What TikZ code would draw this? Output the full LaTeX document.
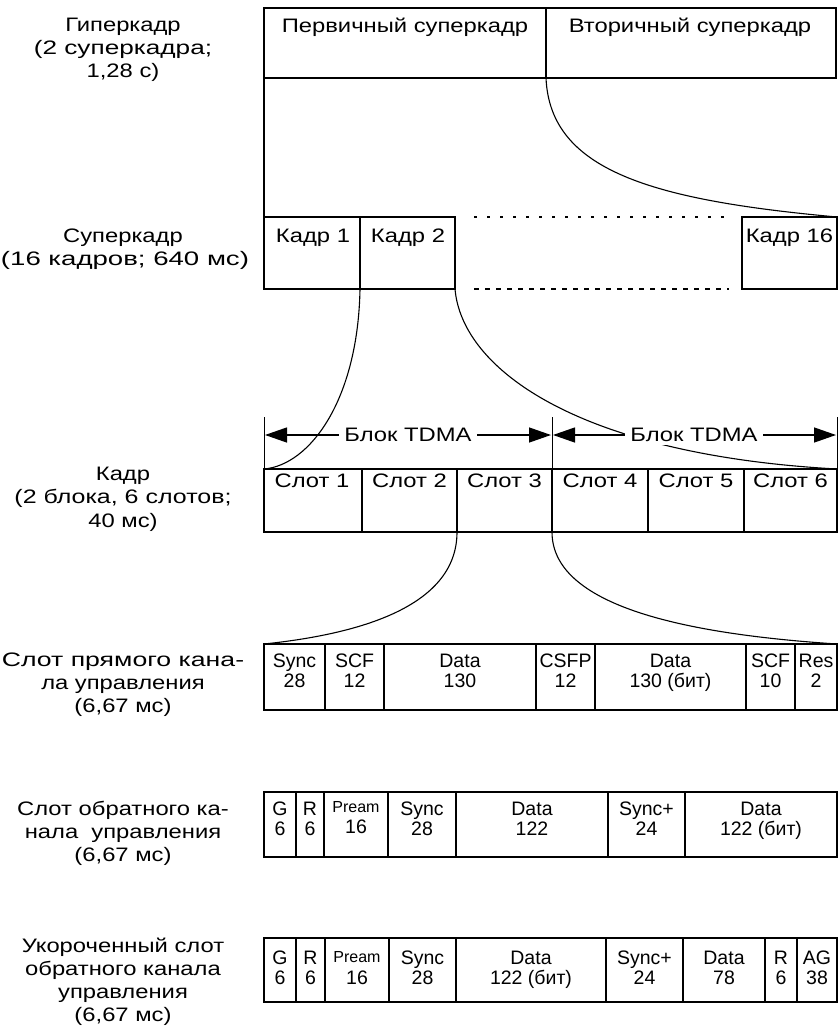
\documentclass[tikz,border=0pt]{standalone}
\usepackage{fontspec}
\usepackage{graphicx}
\setmainfont{Liberation Sans}
\newfontfamily\wide{Liberation Sans}[FakeStretch=1.22]
\usetikzlibrary{arrows.meta}
\newcommand\mycell[6][]{\node[boxcell,#1,minimum width={#4-#3},minimum height={#6-#5},anchor=north west] (#2) at (#3,#5) {};}
\newcommand\twol[5]{\node[cell] (#1a) at (#2,#3) {#4};\node[cell] (#1b) at (#2,#3+20) {#5};}
\begin{document}
\begin{tikzpicture}[x=1pt,y=-1pt,
  boxcell/.style={draw,line width=1.6pt,inner sep=0pt,outer sep=0pt},
  lbl/.style={anchor=base,inner sep=0pt,font=\wide\fontsize{19.5}{23}\selectfont},
  cell/.style={anchor=base,inner sep=0pt,font=\fontsize{19.5}{20}\selectfont},
  smallcell/.style={anchor=base,inner sep=0pt,font=\fontsize{16}{18}\selectfont},
  link/.style={line width=1.1pt},
  tdma/.style={line width=1.3pt,{Triangle[length=22pt,width=15pt]}-{Triangle[length=22pt,width=15pt]}},
  whitelbl/.style={lbl,fill=white,inner xsep=5pt,inner ysep=4pt}
]
\useasboundingbox (0,0) rectangle (839,1032);

% ---- left labels
\node[lbl] (h1) at (123,32) {Гиперкадр};
\node[lbl] (h2) at (123,55) {\scalebox{1.1}[1]{(2 суперкадра;}};
\node[lbl] (h3) at (123,78) {1,28 с)};
\node[lbl] (sf1) at (123,242) {Суперкадр};
\node[lbl] (sf2) at (125,265) {\scalebox{1.16}[1]{(16 кадров; 640 мс)}};
\node[lbl] (fr1) at (123,480) {Кадр};
\node[lbl] (fr2) at (123,503) {\scalebox{1.05}[1]{(2 блока, 6 слотов;}};
\node[lbl] (fr3) at (123,527) {40 мс)};
\node[lbl] (fw1) at (123,666) {\scalebox{1.12}[1]{Слот прямого кана-}};
\node[lbl] (fw2) at (123,689) {ла управления};
\node[lbl] (fw3) at (123,712) {(6,67 мс)};
\node[lbl] (rv1) at (123,815) {Слот обратного ка-};
\node[lbl] (rv2) at (123,838) {нала\ \ управления};
\node[lbl] (rv3) at (123,861) {(6,67 мс)};
\node[lbl] (sh1) at (123,952) {Укороченный слот};
\node[lbl] (sh2) at (123,975) {обратного канала};
\node[lbl] (sh3) at (123,998) {управления};
\node[lbl] (sh4) at (123,1021) {(6,67 мс)};

% ---- hyperframe
\mycell{p}{264}{546}{8}{78}
\mycell{v}{546}{836}{8}{78}
\node[lbl] (pt) at (405,33) {Первичный суперкадр};
\node[lbl] (vt) at (690,33) {Вторичный суперкадр};

% ---- superframe
\mycell{k1}{264}{360}{217}{289}
\mycell{k2}{360}{455}{217}{289}
\mycell{k16}{742}{837}{217}{289}
\node[lbl] (k1t) at (313,242) {Кадр 1};
\node[lbl] (k2t) at (408,242) {Кадр 2};
\node[lbl] (k16t) at (789.5,242) {Кадр 16};
\coordinate (d1a) at (474,217); \coordinate (d1b) at (727,217);
\coordinate (d2a) at (474,289); \coordinate (d2b) at (729,289);
\draw[line width=1.5pt,dash pattern=on 3pt off 10pt] (d1a) -- (d1b);
\draw[line width=1.3pt,dash pattern=on 5pt off 6pt] (d2a) -- (d2b);

\draw[link] (p.south west) -- (k1.north west);
\draw[link] (p.south east) .. controls (550,170) and (650,200) .. (k16.north east);

% ---- frame
\mycell{s1}{264}{362}{469}{532}
\mycell{s2}{362}{457}{469}{532}
\mycell{s3}{457}{552}{469}{532}
\mycell{s4}{552}{648}{469}{532}
\mycell{s5}{648}{744}{469}{532}
\mycell{s6}{744}{837}{469}{532}
\node[lbl] (s1t) at (312,487) {Слот 1};
\node[lbl] (s2t) at (409.5,487) {Слот 2};
\node[lbl] (s3t) at (504.5,487) {Слот 3};
\node[lbl] (s4t) at (600,487) {Слот 4};
\node[lbl] (s5t) at (696,487) {Слот 5};
\node[lbl] (s6t) at (790.5,487) {Слот 6};

\draw[link] (k2.south west) .. controls (358,400) and (310,465) .. (s1.north west);
\draw[link] (k2.south east) .. controls (462,370) and (580,455) .. (s6.north east);

\coordinate (va) at (264,417); \coordinate (vb) at (552,417); \coordinate (vc) at (837,417);
\draw[line width=1pt] (s1.north west) -- (va);
\draw[line width=1pt] (s4.north west) -- (vb);
\draw[line width=1pt] (s6.north east) -- (vc);
\coordinate (a1l) at (265,435); \coordinate (a1r) at (551,435);
\coordinate (a2l) at (553,435); \coordinate (a2r) at (836,435);
\draw[tdma] (a1l) -- (a1r);
\draw[tdma] (a2l) -- (a2r);
\node[whitelbl] (b1) at (408,441) {Блок TDMA};
\node[whitelbl] (b2) at (694,441) {Блок TDMA};

% ---- forward control slot
\mycell{f1}{264}{325}{644}{710}
\mycell{f2}{325}{384}{644}{710}
\mycell{f3}{384}{536}{644}{710}
\mycell{f4}{536}{595}{644}{710}
\mycell{f5}{595}{746}{644}{710}
\mycell{f6}{746}{795}{644}{710}
\mycell{f7}{795}{837}{644}{710}
\twol{f1t}{294.5}{667}{Sync}{28}
\twol{f2t}{354.5}{667}{SCF}{12}
\twol{f3t}{460}{667}{Data}{130}
\twol{f4t}{565.5}{667}{CSFP}{12}
\twol{f5t}{670.5}{667}{Data}{130 (бит)}
\twol{f6t}{770.5}{667}{SCF}{10}
\twol{f7t}{816}{667}{Res}{2}

\draw[link] (s3.south west) .. controls (457,610) and (350,635) .. (f1.north west);
\draw[link] (s3.south east) .. controls (552,610) and (700,635) .. (f7.north east);

% ---- reverse control slot
\mycell{r1}{264}{296}{792}{857}
\mycell{r2}{296}{324}{792}{857}
\mycell{r3}{324}{388}{792}{857}
\mycell{r4}{388}{456}{792}{857}
\mycell{r5}{456}{608}{792}{857}
\mycell{r6}{608}{685}{792}{857}
\mycell{r7}{685}{837}{792}{857}
\twol{r1t}{280}{815}{G}{6}
\twol{r2t}{310}{815}{R}{6}
\node[smallcell] (r3ta) at (356,812) {Pream};
\node[cell] (r3tb) at (356,833) {16};
\twol{r4t}{422}{815}{Sync}{28}
\twol{r5t}{532}{815}{Data}{122}
\twol{r6t}{646.5}{815}{Sync+}{24}
\twol{r7t}{761}{815}{Data}{122 (бит)}

% ---- shortened reverse control slot
\mycell{u1}{264}{296}{938}{1002}
\mycell{u2}{296}{325}{938}{1002}
\mycell{u3}{325}{389}{938}{1002}
\mycell{u4}{389}{456}{938}{1002}
\mycell{u5}{456}{606}{938}{1002}
\mycell{u6}{606}{683}{938}{1002}
\mycell{u7}{683}{765}{938}{1002}
\mycell{u8}{765}{797}{938}{1002}
\mycell{u9}{797}{837}{938}{1002}
\twol{u1t}{280}{964}{G}{6}
\twol{u2t}{310.5}{964}{R}{6}
\node[smallcell] (u3ta) at (357,962) {Pream};
\node[cell] (u3tb) at (357,984) {16};
\twol{u4t}{422.5}{964}{Sync}{28}
\twol{u5t}{531}{964}{Data}{122 (бит)}
\twol{u6t}{644.5}{964}{Sync+}{24}
\twol{u7t}{724}{964}{Data}{78}
\twol{u8t}{781}{964}{R}{6}
\twol{u9t}{817}{964}{AG}{38}
\end{tikzpicture}
\end{document}
